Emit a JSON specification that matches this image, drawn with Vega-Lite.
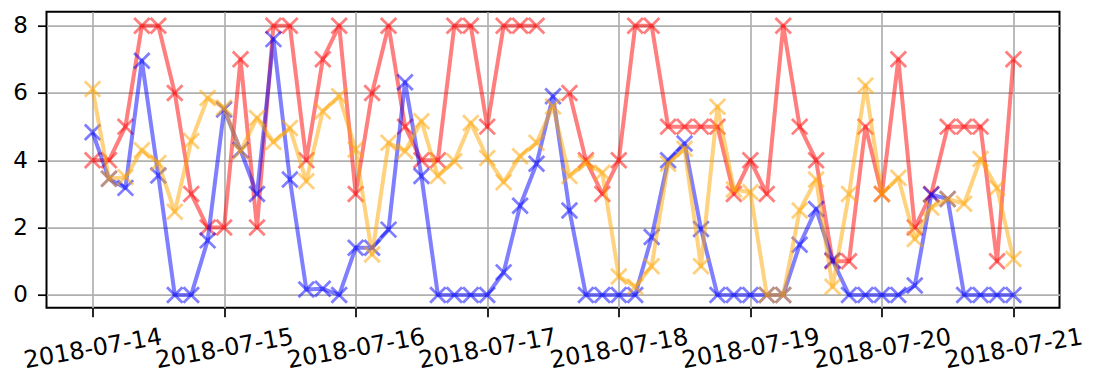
{
  "$schema": "https://vega.github.io/schema/vega-lite/v6.json",
  "width": 1013,
  "height": 296,
  "autosize": {"type": "none"},
  "padding": {"left": 46.5, "top": 11.7, "right": 34.5, "bottom": 68.3},
  "background": "white",
  "config": {
    "view": {"stroke": "black", "strokeWidth": 2},
    "axis": {
      "domain": false,
      "grid": true,
      "gridColor": "#b0b0b0",
      "gridWidth": 1.7,
      "tickColor": "black",
      "tickSize": 9,
      "tickWidth": 1.7,
      "labelFont": "DejaVu Sans",
      "labelFontSize": 23,
      "labelColor": "black",
      "title": null
    }
  },
  "data": {
    "values": [
      {"t": "2018-07-14T00:00:00Z", "red": 4, "blue": 4.83, "orange": 6.12},
      {"t": "2018-07-14T03:00:00Z", "red": 4, "blue": 3.45, "orange": 3.45},
      {"t": "2018-07-14T06:00:00Z", "red": 5, "blue": 3.18, "orange": 3.5},
      {"t": "2018-07-14T09:00:00Z", "red": 8, "blue": 6.96, "orange": 4.3},
      {"t": "2018-07-14T12:00:00Z", "red": 8, "blue": 3.55, "orange": 3.92},
      {"t": "2018-07-14T15:00:00Z", "red": 6, "blue": 0, "orange": 2.47},
      {"t": "2018-07-14T18:00:00Z", "red": 3, "blue": 0, "orange": 4.57},
      {"t": "2018-07-14T21:00:00Z", "red": 2, "blue": 1.62, "orange": 5.85},
      {"t": "2018-07-15T00:00:00Z", "red": 2, "blue": 5.51, "orange": 5.56},
      {"t": "2018-07-15T03:00:00Z", "red": 7, "blue": 4.3, "orange": 4.27},
      {"t": "2018-07-15T06:00:00Z", "red": 2, "blue": 3.0, "orange": 5.26},
      {"t": "2018-07-15T09:00:00Z", "red": 8, "blue": 7.6, "orange": 4.54},
      {"t": "2018-07-15T12:00:00Z", "red": 8, "blue": 3.43, "orange": 4.96},
      {"t": "2018-07-15T15:00:00Z", "red": 4, "blue": 0.16, "orange": 3.38},
      {"t": "2018-07-15T18:00:00Z", "red": 7, "blue": 0.18, "orange": 5.46},
      {"t": "2018-07-15T21:00:00Z", "red": 8, "blue": 0, "orange": 5.9},
      {"t": "2018-07-16T00:00:00Z", "red": 3, "blue": 1.4, "orange": 4.32},
      {"t": "2018-07-16T03:00:00Z", "red": 6, "blue": 1.4, "orange": 1.2},
      {"t": "2018-07-16T06:00:00Z", "red": 8, "blue": 1.94, "orange": 4.52},
      {"t": "2018-07-16T09:00:00Z", "red": 5, "blue": 6.32, "orange": 4.27},
      {"t": "2018-07-16T12:00:00Z", "red": 4, "blue": 3.53, "orange": 5.16},
      {"t": "2018-07-16T15:00:00Z", "red": 4, "blue": 0, "orange": 3.53},
      {"t": "2018-07-16T18:00:00Z", "red": 8, "blue": 0, "orange": 3.97},
      {"t": "2018-07-16T21:00:00Z", "red": 8, "blue": 0, "orange": 5.11},
      {"t": "2018-07-17T00:00:00Z", "red": 5, "blue": 0, "orange": 4.07},
      {"t": "2018-07-17T03:00:00Z", "red": 8, "blue": 0.67, "orange": 3.35},
      {"t": "2018-07-17T06:00:00Z", "red": 8, "blue": 2.65, "orange": 4.12},
      {"t": "2018-07-17T09:00:00Z", "red": 8, "blue": 3.9, "orange": 4.52},
      {"t": "2018-07-17T12:00:00Z", "red": null, "blue": 5.9, "orange": 5.6},
      {"t": "2018-07-17T15:00:00Z", "red": 6, "blue": 2.51, "orange": 3.53},
      {"t": "2018-07-17T18:00:00Z", "red": 4, "blue": 0, "orange": 3.92},
      {"t": "2018-07-17T21:00:00Z", "red": 3, "blue": 0, "orange": 3.63},
      {"t": "2018-07-18T00:00:00Z", "red": 4, "blue": 0, "orange": 0.55},
      {"t": "2018-07-18T03:00:00Z", "red": 8, "blue": 0, "orange": 0.24},
      {"t": "2018-07-18T06:00:00Z", "red": 8, "blue": 1.72, "orange": 0.85},
      {"t": "2018-07-18T09:00:00Z", "red": 5, "blue": 4.0, "orange": 3.9},
      {"t": "2018-07-18T12:00:00Z", "red": 5, "blue": 4.5, "orange": 4.34},
      {"t": "2018-07-18T15:00:00Z", "red": 5, "blue": 1.96, "orange": 0.85},
      {"t": "2018-07-18T18:00:00Z", "red": 5, "blue": 0, "orange": 5.59},
      {"t": "2018-07-18T21:00:00Z", "red": 3, "blue": 0, "orange": 3.13},
      {"t": "2018-07-19T00:00:00Z", "red": 4, "blue": 0, "orange": 3.05},
      {"t": "2018-07-19T03:00:00Z", "red": 3, "blue": 0, "orange": 0},
      {"t": "2018-07-19T06:00:00Z", "red": 8, "blue": 0, "orange": 0},
      {"t": "2018-07-19T09:00:00Z", "red": 5, "blue": 1.49, "orange": 2.51},
      {"t": "2018-07-19T12:00:00Z", "red": 4, "blue": 2.55, "orange": 3.43},
      {"t": "2018-07-19T15:00:00Z", "red": 1, "blue": 1.03, "orange": 0.24},
      {"t": "2018-07-19T18:00:00Z", "red": 1, "blue": 0, "orange": 3.0},
      {"t": "2018-07-19T21:00:00Z", "red": 5, "blue": 0, "orange": 6.22},
      {"t": "2018-07-20T00:00:00Z", "red": 3, "blue": 0, "orange": 3.0},
      {"t": "2018-07-20T03:00:00Z", "red": 7, "blue": 0, "orange": 3.48},
      {"t": "2018-07-20T06:00:00Z", "red": 2, "blue": 0.28, "orange": 1.66},
      {"t": "2018-07-20T09:00:00Z", "red": 3, "blue": 2.98, "orange": 2.6},
      {"t": "2018-07-20T12:00:00Z", "red": 5, "blue": 2.85, "orange": 2.85},
      {"t": "2018-07-20T15:00:00Z", "red": 5, "blue": 0, "orange": 2.71},
      {"t": "2018-07-20T18:00:00Z", "red": 5, "blue": 0, "orange": 4.04},
      {"t": "2018-07-20T21:00:00Z", "red": 1, "blue": 0, "orange": 3.18},
      {"t": "2018-07-21T00:00:00Z", "red": 7, "blue": 0, "orange": 1.07}
    ]
  },
  "encoding": {
    "x": {
      "field": "t",
      "type": "temporal",
      "scale": {
        "type": "utc",
        "domain": [
          {"year": 2018, "month": 7, "date": 13, "hours": 15, "minutes": 36, "utc": true},
          {"year": 2018, "month": 7, "date": 21, "hours": 8, "minutes": 24, "utc": true}
        ]
      },
      "axis": {
        "values": [
          {"year": 2018, "month": 7, "date": 14, "utc": true},
          {"year": 2018, "month": 7, "date": 15, "utc": true},
          {"year": 2018, "month": 7, "date": 16, "utc": true},
          {"year": 2018, "month": 7, "date": 17, "utc": true},
          {"year": 2018, "month": 7, "date": 18, "utc": true},
          {"year": 2018, "month": 7, "date": 19, "utc": true},
          {"year": 2018, "month": 7, "date": 20, "utc": true},
          {"year": 2018, "month": 7, "date": 21, "utc": true}
        ],
        "format": "%Y-%m-%d",
        "labelAngle": -10,
        "labelAlign": "center",
        "labelBaseline": "middle",
        "labelPadding": 32,
        "labelOverlap": false,
        "labelFlush": false,
        "labelBound": false,
        "labelFontSize": 24
      }
    }
  },
  "layer": [
    {
      "mark": {"type": "line", "color": "#ff0000", "opacity": 0.5, "strokeWidth": 4, "strokeJoin": "round", "invalid": "break-paths-filter-domains"},
      "encoding": {"y": {"field": "red", "type": "quantitative", "scale": {"domain": [-0.38, 8.415], "nice": false, "zero": false}, "axis": {"values": [0, 2, 4, 6, 8], "labelPadding": 10}}}
    },
    {
      "mark": {"type": "point", "shape": "M-1,-1L1,1M-1,1L1,-1", "filled": false, "color": "#ff0000", "opacity": 0.5, "size": 240, "strokeWidth": 2.8, "invalid": "break-paths-filter-domains"},
      "encoding": {"y": {"field": "red", "type": "quantitative"}}
    },
    {
      "mark": {"type": "line", "color": "#0000ff", "opacity": 0.5, "strokeWidth": 4, "strokeJoin": "round"},
      "encoding": {"y": {"field": "blue", "type": "quantitative"}}
    },
    {
      "mark": {"type": "point", "shape": "M-1,-1L1,1M-1,1L1,-1", "filled": false, "color": "#0000ff", "opacity": 0.5, "size": 240, "strokeWidth": 2.8},
      "encoding": {"y": {"field": "blue", "type": "quantitative"}}
    },
    {
      "mark": {"type": "line", "color": "#ffa500", "opacity": 0.5, "strokeWidth": 4, "strokeJoin": "round"},
      "encoding": {"y": {"field": "orange", "type": "quantitative"}}
    },
    {
      "mark": {"type": "point", "shape": "M-1,-1L1,1M-1,1L1,-1", "filled": false, "color": "#ffa500", "opacity": 0.5, "size": 240, "strokeWidth": 2.8},
      "encoding": {"y": {"field": "orange", "type": "quantitative"}}
    }
  ]
}
